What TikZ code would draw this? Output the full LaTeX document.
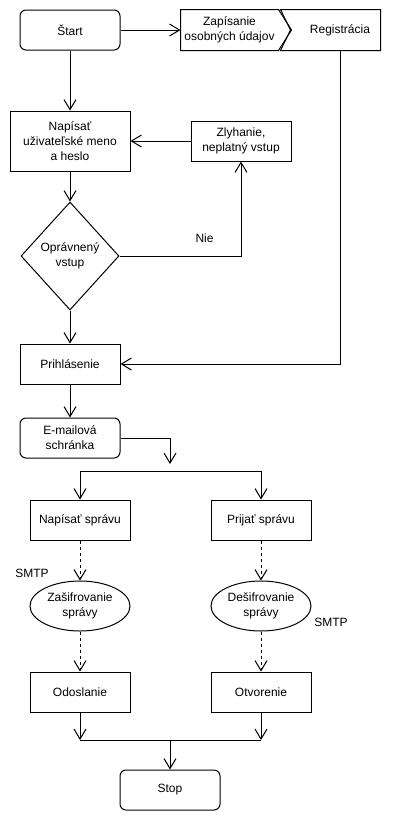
\documentclass[tikz,border=0pt]{standalone}
\usepackage{fontspec}
\setmainfont{Liberation Sans}
\usetikzlibrary{shapes, arrows.meta, calc, positioning}

\begin{document}
\begin{tikzpicture}[x=1pt, y=-1pt, >={Straight Barb[length=10pt,width=12pt]},
    font=\fontsize{12}{15}\selectfont, line width=1pt, node distance=30pt]
    \tikzstyle{box} = [draw, rectangle, minimum width=100pt, minimum height=40pt,
	align=center, inner sep=2pt]
    \tikzstyle{term} = [box, rounded corners=6pt]
    \tikzstyle{decision} = [draw, diamond, minimum width=98pt, minimum height=108pt,
	inner sep=0pt, align=center]
    \tikzstyle{crypt} = [draw, ellipse, minimum width=100pt, minimum height=50pt,
	inner sep=0pt, align=center]
    \tikzstyle{tag} = [rectangle, minimum height=40pt, inner xsep=0.5pt,
	inner ysep=0pt, align=center]
    \tikzstyle{dots} = [dash pattern=on 3pt off 3pt]

    \useasboundingbox (0,0) rectangle (420,820);

	% prihlasovanie
	\node[term] (start) at (70,30) {Štart};
	\node[tag, right=60pt of start, minimum width=97pt] (zapis) {Zapísanie\\osobných údajov};
	\node[tag, minimum width=80pt] (regis) at (340,30) {Registrácia};
	\draw (zapis.north west) -- (zapis.north east) -- ($(zapis.east)+(13,0)$)
		-- (zapis.south east) -- (zapis.south west) -- cycle;
	\draw ($(regis.north west)+(-19,0)$) -- (regis.north east) -- (regis.south east)
		-- ($(regis.south west)+(-19,0)$) -- ($(regis.west)+(-9,0)$) -- cycle;
	\node[box, below=60pt of start, minimum width=120pt, minimum height=60pt] (meno)
		{Napísať\\uživateľské meno\\a heslo};
	\node[box, right=60pt of meno] (zlyh) {Zlyhanie,\\neplatný vstup};
	\node[decision, below=of meno] (opr) {Oprávnený\\vstup};
	\node[box, below=33pt of opr] (prihl) {Prihlásenie};
	\node[term, below=33pt of prihl] (mail) {E-mailová\\schránka};

	% posta
	\node[box] (napis) at (80,520) {Napísať správu};
	\node[box, right=80pt of napis] (prijat) {Prijať správu};
	\node[crypt, below=40pt of napis] (zasif) {Zašifrovanie\\správy};
	\node[crypt, below=40pt of prijat] (desif) {Dešifrovanie\\správy};
	\node[box, below=40pt of zasif] (odosl) {Odoslanie};
	\node[box, below=40pt of desif] (otvor) {Otvorenie};
	\node[term] (stop) at (170,790) {Stop};

	\node (smtp1) at (32,573) {SMTP};
	\node (smtp2) at (331,622) {SMTP};

	\coordinate (forktip) at (170,464);
	\coordinate (fork) at (170,471);
	\coordinate (join) at (170,740);

	\draw[->] (start) -- (zapis);
	\draw[->] (start) -- (meno);
	\draw[->] (zlyh) -- (zlyh -| meno.east);
	\draw[->] (meno) -- (opr);
	\draw[->] (opr.east) -| node[pos=0.35, above=10pt] (nie) {Nie} (zlyh.south);
	\draw[->] (opr) -- (prihl);
	\draw[->] (regis.south) |- (prihl.east);
	\draw[->] (prihl) -- (mail);
	\draw[->] (mail.east) -| (forktip);
	\draw[->] (fork) -| (napis.north);
	\draw[->] (fork) -| (prijat.north);

	\draw[->, dots] (napis) -- (zasif);
	\draw[->, dots] (prijat) -- (desif);
	\draw[->, dots] (zasif) -- (odosl);
	\draw[->, dots] (desif) -- (otvor);

	\draw[->] (odosl.south) -- (odosl.south |- join);
	\draw[->] (otvor.south) -- (otvor.south |- join);
	\draw (odosl.south |- join) -- (otvor.south |- join);
	\draw[->] (join) -- (stop);
\end{tikzpicture}
\end{document}
